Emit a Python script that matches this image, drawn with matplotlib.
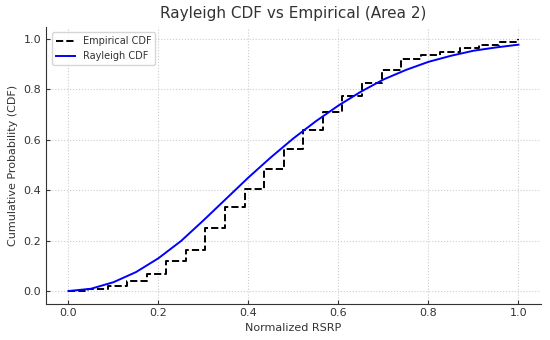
import numpy as np
import matplotlib.pyplot as plt

# empirical CDF, step values at equally spaced RSRP points
emp_x = np.linspace(0, 1, 24)
emp_y = [0.0, 0.007, 0.021, 0.041, 0.067, 0.119, 0.164, 0.25, 0.333, 0.405,
         0.484, 0.561, 0.638, 0.708, 0.773, 0.825, 0.876, 0.921, 0.934, 0.947,
         0.962, 0.975, 0.988, 0.998]

# fitted Rayleigh CDF
ray_x = [0.0, 0.05, 0.1, 0.15, 0.2, 0.25, 0.3, 0.35, 0.4, 0.45, 0.5,
         0.55, 0.6, 0.65, 0.7, 0.75, 0.8, 0.85, 0.9, 0.95, 1.0]
ray_y = [0.0, 0.009, 0.035, 0.075, 0.13, 0.198, 0.28, 0.365, 0.45, 0.53, 0.605,
         0.673, 0.735, 0.79, 0.838, 0.876, 0.908, 0.932, 0.952, 0.965, 0.976]

txt = '#333333'
fig = plt.figure(figsize=(5.5, 3.4), dpi=100)
ax = fig.add_axes([0.0836, 0.107, 0.9, 0.815])

ax.step(emp_x, emp_y, where='post', color='black', linestyle='--', linewidth=1.4, label='Empirical CDF')
ax.plot(ray_x, ray_y, color='blue', linewidth=1.4, label='Rayleigh CDF')

ax.set_title('Rayleigh CDF vs Empirical (Area 2)', fontsize=11, color=txt)
ax.set_xlabel('Normalized RSRP', fontsize=8, color=txt, labelpad=3)
ax.set_ylabel('Cumulative Probability (CDF)', fontsize=8, color=txt, labelpad=4)
ax.tick_params(labelsize=8, colors=txt, direction='in', length=3, width=0.8)
ax.grid(True, linestyle=':', color='#cccccc', linewidth=0.8)
for s in ['top', 'right']:
    ax.spines[s].set_visible(False)
for s in ['left', 'bottom']:
    ax.spines[s].set_color('#333333')
ax.legend(loc='upper left', fontsize=7, frameon=True, edgecolor='#cccccc', labelcolor=txt,
          borderaxespad=0.6, handlelength=2.0)

fig.savefig('out.png', dpi=100)
plt.close()
